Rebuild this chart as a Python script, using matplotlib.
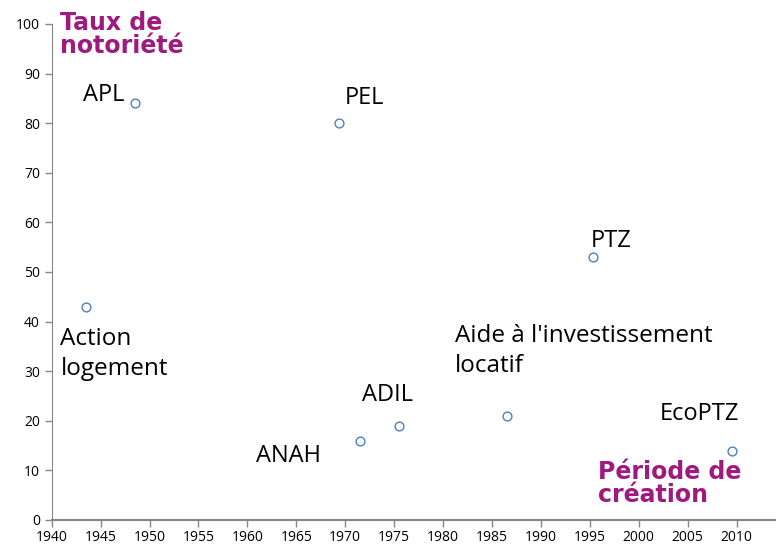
import matplotlib.pyplot as plt

# dispositifs : année de création et taux de notoriété (%)
noms = ['APL', 'Action\nlogement', 'PEL', 'ANAH', 'ADIL',
        "Aide à l'investissement\nlocatif", 'PTZ', 'EcoPTZ']
annees = [1948.5, 1943.5, 1969.4, 1971.5, 1975.5, 1986.5, 1995.3, 2009.5]
notoriete = [84, 43, 80, 16, 19, 21, 53, 14]

# position des étiquettes (ligne de base de la dernière ligne, coordonnées des données)
label_x = [1943.2, 1940.9, 1970.0, 1960.9, 1971.7, 1981.2, 1995.1, 2002.1]
label_y = [84.5, 29.2, 83.8, 11.6, 23.9, 29.8, 55.1, 20.2]
label_taille = [17, 17.5, 17, 17, 17, 17.5, 17, 17]

plt.rcParams['font.family'] = ['Open Sans', 'DejaVu Sans']

fig = plt.figure(figsize=(7.76, 5.45), dpi=100)
ax = fig.add_axes([0.0666, 0.0459, 0.933, 0.9101])

ax.scatter(annees, notoriete, s=40, facecolors='white',
           edgecolors='#4F81BD', linewidths=1.0, zorder=3)

for nom, x, y, t in zip(noms, label_x, label_y, label_taille):
    ax.text(x, y, nom, fontsize=t, color='black', ha='left', va='baseline',
            linespacing=1.35)

violet = '#9E1A7E'
ax.text(1940.9, 94.1, 'Taux de\nnotoriété', fontsize=17, fontweight='bold',
        color=violet, ha='left', va='baseline', linespacing=0.95,
        family='DejaVu Sans')
ax.text(1995.8, 3.7, 'Période de\ncréation', fontsize=17, fontweight='bold',
        color=violet, ha='left', va='baseline', linespacing=0.95,
        family='DejaVu Sans')

ax.set_xlim(1940, 2014)
ax.set_ylim(0, 100)
ax.set_xticks(range(1940, 2011, 5))
ax.set_yticks(range(0, 101, 10))
ax.tick_params(labelsize=10, length=5, color='#868686', width=1)
ax.tick_params(axis='x', pad=2)

for s in ['top', 'right']:
    ax.spines[s].set_visible(False)
ax.spines['left'].set_color('#868686')
ax.spines['bottom'].set_color('#868686')
ax.spines['bottom'].set_linewidth(1.5)

fig.savefig('out.png', dpi=100)
